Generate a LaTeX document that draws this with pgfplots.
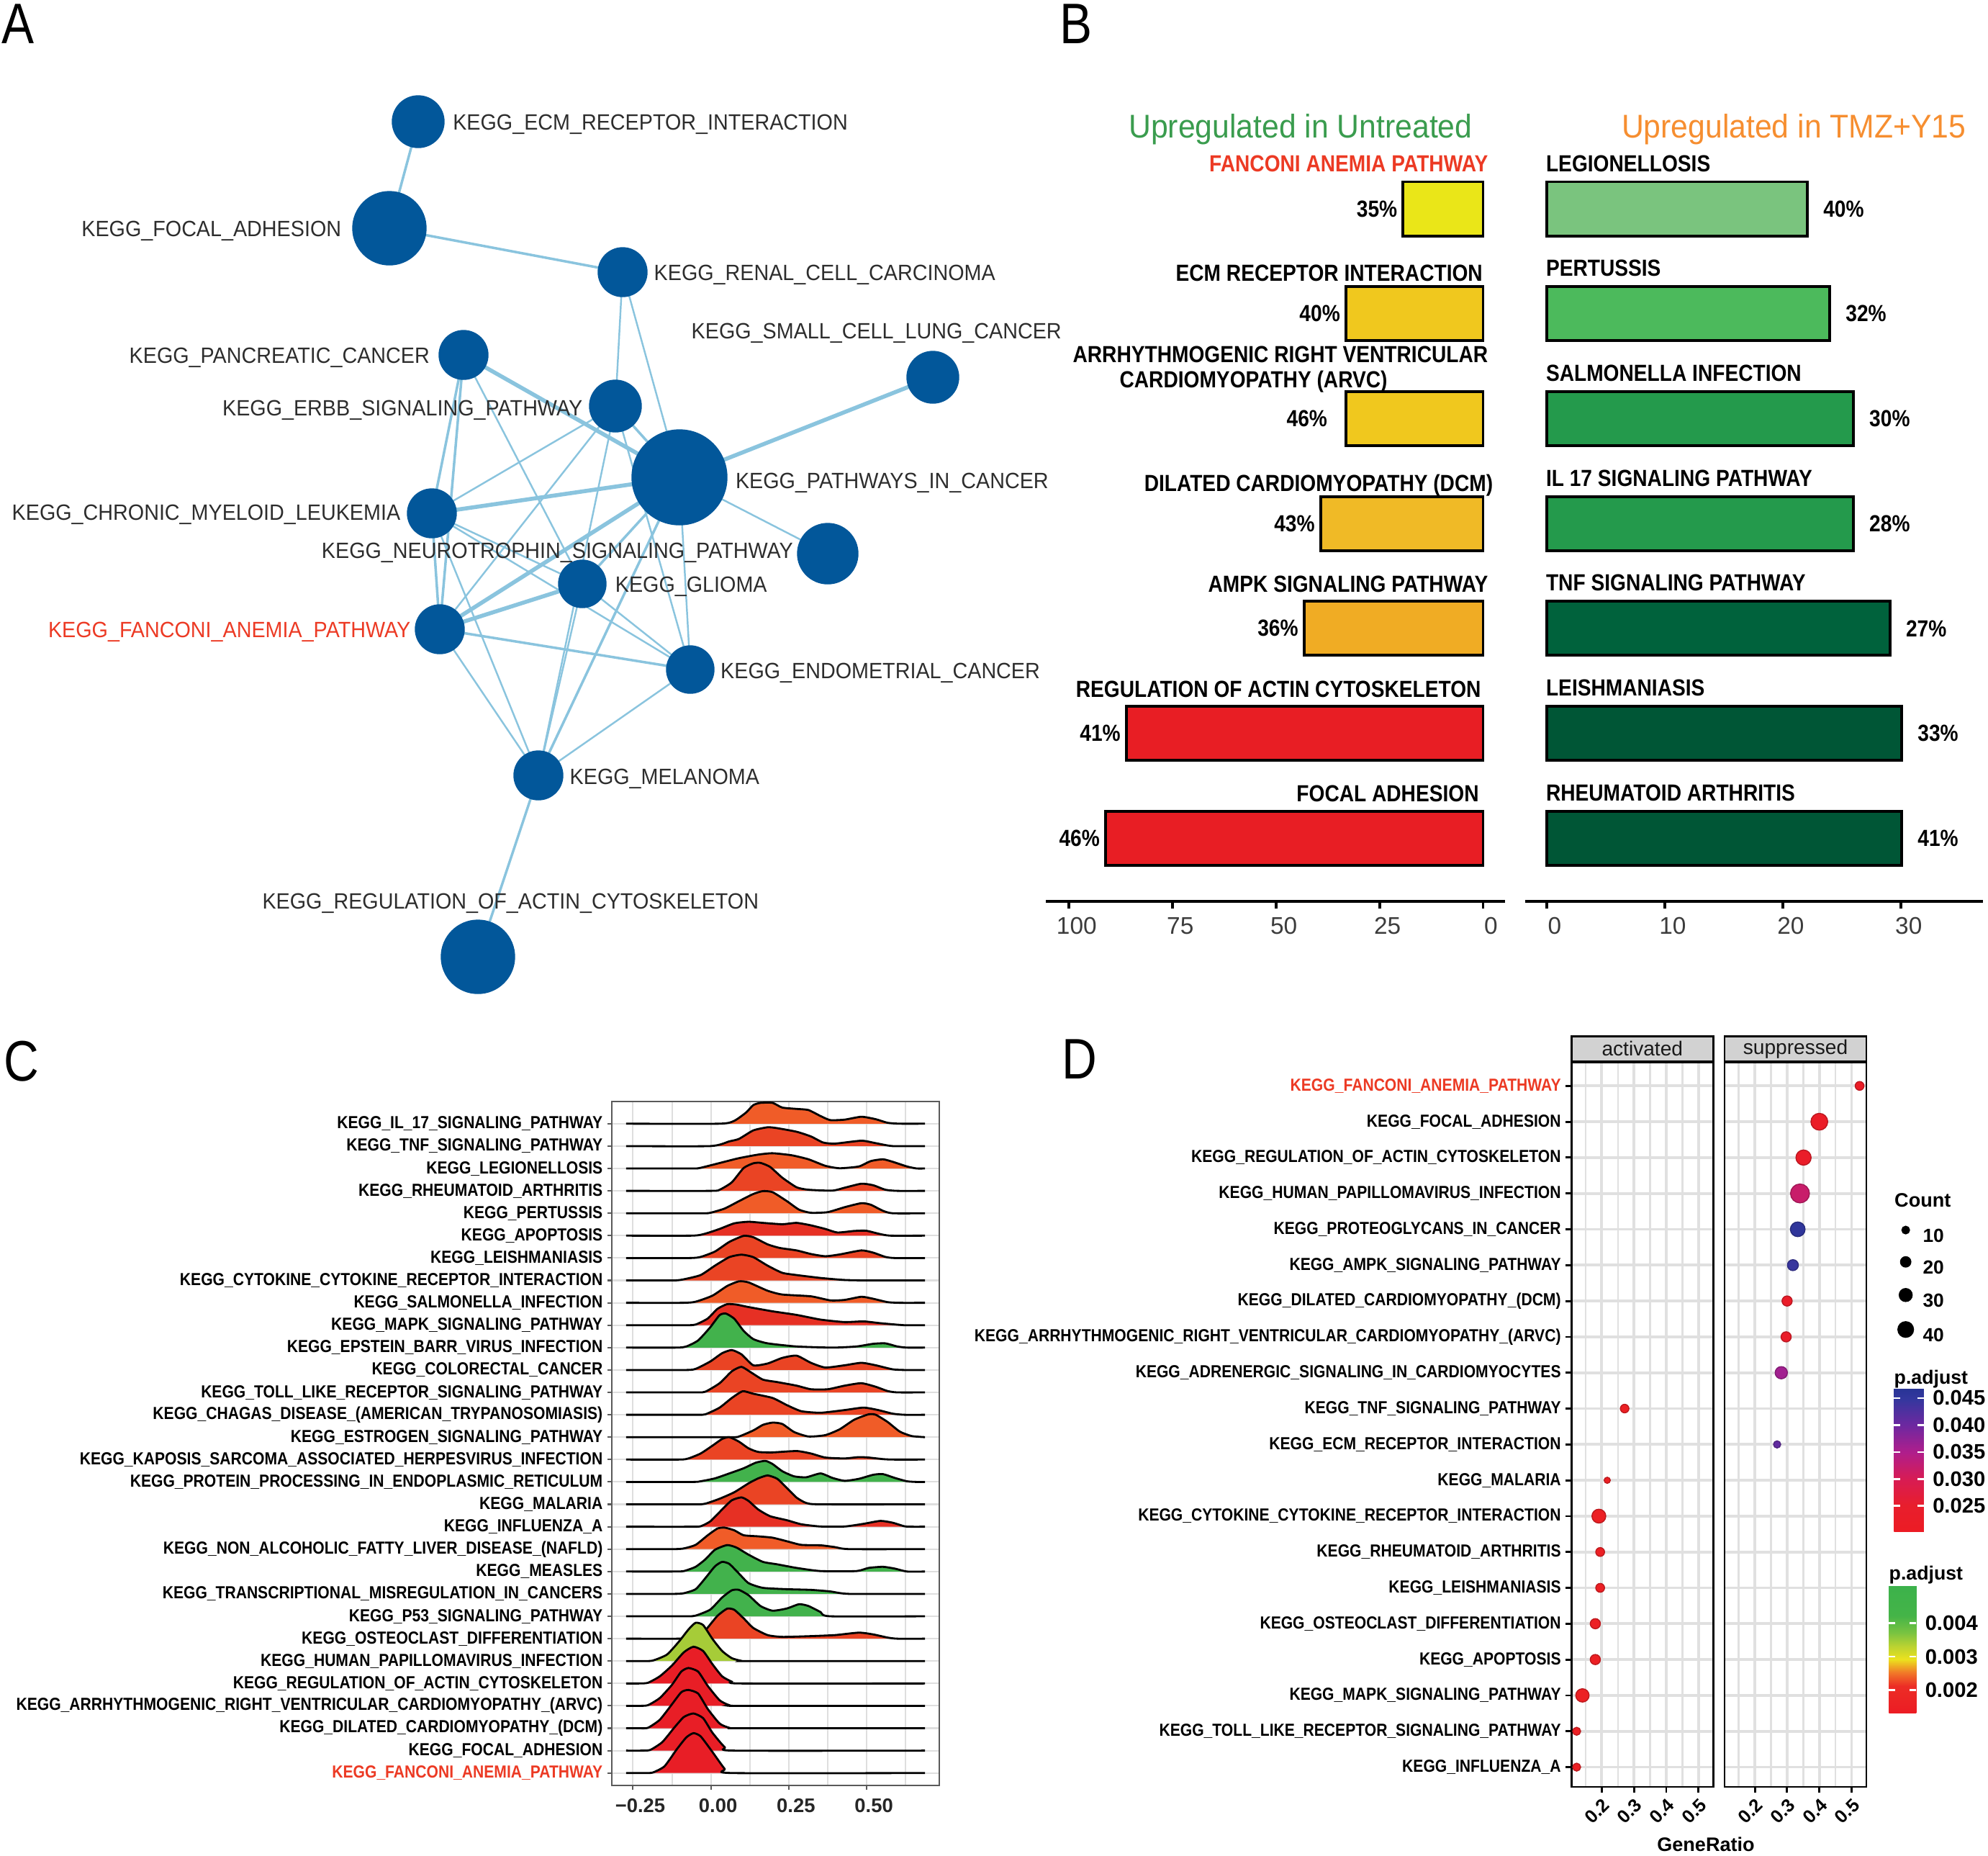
\documentclass[border=0pt]{standalone}
\usepackage{pgfplots}
\usepackage{pgfplotstable}
\pgfplotsset{compat=1.18}
\usepackage{fontspec}
\setmainfont{Liberation Sans}
\newfontfamily\fA[FakeStretch=0.935]{Liberation Sans}
\newfontfamily\fN[FakeStretch=0.87]{Liberation Sans}
\newfontfamily\fL[FakeStretch=0.85]{Liberation Sans}

\definecolor{nodeblue}{RGB}{2,87,154}
\definecolor{edgeblue}{RGB}{138,196,222}
\definecolor{txtgray}{RGB}{45,45,45}
\definecolor{kred}{RGB}{236,58,36}
\definecolor{titgreen}{RGB}{58,156,78}
\definecolor{titorange}{RGB}{246,142,48}
\definecolor{tickgray}{RGB}{60,60,60}
\definecolor{bA}{RGB}{234,230,24}
\definecolor{bB}{RGB}{240,200,30}
\definecolor{bC}{RGB}{240,186,38}
\definecolor{bD}{RGB}{240,172,36}
\definecolor{bE}{RGB}{232,30,36}
\definecolor{gA}{RGB}{122,196,126}
\definecolor{gB}{RGB}{76,186,92}
\definecolor{gC}{RGB}{36,154,76}
\definecolor{gD}{RGB}{0,98,60}
\definecolor{gE}{RGB}{0,86,54}
\definecolor{or1}{RGB}{240,92,40}
\definecolor{or2}{RGB}{234,68,36}
\definecolor{rd1}{RGB}{230,48,36}
\definecolor{rd2}{RGB}{232,30,38}
\definecolor{gn}{RGB}{66,178,76}
\definecolor{yg}{RGB}{166,204,56}
\definecolor{cgray}{RGB}{90,90,90}
\definecolor{gridC}{RGB}{222,222,222}
\definecolor{gridD}{RGB}{224,224,224}
\definecolor{stripgray}{RGB}{210,210,210}

\newcommand\fa{\fA\fontsize{8.74}{10}\selectfont}
\newcommand\fb{\fN\bfseries\fontsize{9.2}{11}\selectfont}
\newcommand\fk{\fN\bfseries\fontsize{6.9}{8}\selectfont}

\pgfplotsset{
  e1/.style={no markers, edgeblue, line width=0.7pt},
  e2/.style={no markers, edgeblue, line width=1.0pt},
  e3/.style={no markers, edgeblue, line width=1.6pt},
  colormap={padjA}{rgb255(0cm)=(236,28,36); rgb255(5cm)=(232,30,45); rgb255(10cm)=(215,28,85); rgb255(15cm)=(175,30,140); rgb255(20cm)=(110,40,160); rgb255(25cm)=(52,55,158); rgb255(27cm)=(40,52,150)},
  colormap={padjB}{rgb255(0cm)=(236,28,36); rgb255(8cm)=(236,45,38); rgb255(12cm)=(241,120,40); rgb255(16cm)=(236,226,30); rgb255(20cm)=(185,210,50); rgb255(24cm)=(120,195,65); rgb255(29cm)=(68,180,72); rgb255(38cm)=(60,178,75)},
  dpanel/.style={anchor=north west, width=1.97cm, height=10.066cm, scale only axis,
    xmin=0.106, xmax=0.546, ymin=-0.552, ymax=19.66,
    axis line style={line width=0.8pt},
    xtick={0.2,0.3,0.4,0.5}, minor xtick={0.15,0.25,0.35,0.45}, ytick={0,...,19},
    xmajorgrids, xminorgrids, ymajorgrids,
    major grid style={gridD, line width=1.1pt}, minor grid style={gridD, line width=0.7pt},
    tick pos=left, tick align=outside, major tick length=0.8mm, minor tick length=0pt,
    tick style={black, line width=0.8pt},
    xticklabel style={rotate=45, anchor=north east, inner sep=0.4mm, font=\bfseries\fontsize{7.3}{8}\selectfont, /pgf/number format/assume math mode=true},
    clip=false},
  bpanel/.style={anchor=north west, height=10.348cm, scale only axis, xbar, bar width=0.515, bar shift=0pt,
    ymin=-0.602, ymax=6.5, axis x line*=bottom, axis y line=none,
    axis line style={-, line width=1.2pt}, tick align=outside, major tick length=1mm,
    xtick style={line width=1.1pt, black},
    xticklabel style={font=\fontsize{9.5}{10}\selectfont, text=tickgray, xshift=1.1mm, /pgf/number format/assume math mode=true},
    clip=false},
  cbar/.style={axis line style={draw=none}, tick align=inside, major tick length=0.9mm,
    ytick pos=both, yticklabel pos=right, scaled y ticks=false,
    ytick style={white, line width=0.8pt}, scale only axis, anchor=north west,
    yticklabel style={font=\bfseries\fontsize{8.3}{9}\selectfont,
      /pgf/number format/fixed, /pgf/number format/precision=3,
      /pgf/number format/fixed zerofill, /pgf/number format/assume math mode=true}}
}

\newcommand\ridge[3]{%
  \addplot[draw=none, fill=#3, smooth, tension=0.35] table[x=x, y expr=\thisrow{h}+#2] {#1} -- cycle;
  \addplot[black, line width=0.8pt, smooth, tension=0.35] table[x=x, y expr=\thisrow{h}+#2] {#1};
}

% ridge densities (x = enrichment score, h = height in row units)
\pgfplotstableread{
x h
-0.272 0
0.028 0
0.075 0.13
0.113 0.50
0.136 0.83
0.159 0.93
0.198 0.93
0.229 0.72
0.275 0.66
0.313 0.61
0.352 0.34
0.383 0.16
0.429 0.18
0.483 0.31
0.529 0.20
0.567 0.04
0.606 0
0.687 0
}\rIL
\pgfplotstableread{
x h
-0.272 0
-0.002 0
0.059 0.21
0.090 0.32
0.136 0.70
0.182 0.84
0.213 0.80
0.275 0.64
0.321 0.43
0.360 0.16
0.398 0.11
0.483 0.24
0.529 0.13
0.583 0
0.687 0
}\rTNF
\pgfplotstableread{
x h
-0.272 0
-0.060 0
-0.033 0.03
0.044 0.30
0.090 0.46
0.152 0.62
0.198 0.68
0.259 0.59
0.313 0.41
0.367 0.12
0.413 0.01
0.475 0.09
0.513 0.33
0.552 0.41
0.583 0.30
0.629 0.09
0.660 0
0.687 0
}\rLEG
\pgfplotstableread{
x h
-0.272 0
0.000 0
0.028 0.05
0.067 0.38
0.105 1.02
0.136 1.23
0.159 1.25
0.190 1.07
0.229 0.59
0.275 0.16
0.313 0.05
0.390 0.01
0.429 0.14
0.483 0.32
0.521 0.25
0.560 0.05
0.598 0
0.687 0
}\rRA
\pgfplotstableread{
x h
-0.272 0
-0.030 0
-0.002 0.02
0.044 0.21
0.090 0.54
0.136 0.86
0.167 0.99
0.198 0.94
0.244 0.54
0.283 0.16
0.321 0.02
0.375 0.05
0.429 0.27
0.483 0.45
0.513 0.38
0.552 0.11
0.583 0
0.687 0
}\rPER
\pgfplotstableread{
x h
-0.272 0
-0.060 0
-0.018 0.09
0.028 0.30
0.075 0.55
0.121 0.62
0.167 0.57
0.229 0.51
0.275 0.57
0.321 0.46
0.367 0.30
0.406 0.14
0.460 0.21
0.498 0.22
0.537 0.09
0.575 0
0.687 0
}\rAPO
\pgfplotstableread{
x h
-0.272 0
-0.070 0
-0.033 0.05
0.013 0.29
0.059 0.72
0.105 0.99
0.136 0.93
0.182 0.61
0.221 0.45
0.275 0.34
0.321 0.18
0.367 0.08
0.413 0.16
0.483 0.34
0.521 0.24
0.560 0.05
0.590 0
0.687 0
}\rLEI
\pgfplotstableread{
x h
-0.272 0
-0.120 0
-0.087 0.05
-0.033 0.24
0.013 0.66
0.059 1.04
0.098 1.15
0.136 1.04
0.182 0.66
0.229 0.34
0.275 0.24
0.352 0.11
0.429 0.02
0.506 0
0.687 0
}\rCYT
\pgfplotstableread{
x h
-0.272 0
-0.090 0
-0.049 0.05
0.005 0.32
0.052 0.75
0.090 0.96
0.121 0.91
0.182 0.54
0.229 0.37
0.321 0.29
0.383 0.11
0.429 0.13
0.483 0.27
0.521 0.18
0.567 0.03
0.606 0
0.687 0
}\rSAL
\pgfplotstableread{
x h
-0.272 0
-0.080 0
-0.049 0.03
-0.010 0.30
0.021 0.73
0.052 0.94
0.082 0.92
0.121 0.81
0.198 0.62
0.275 0.46
0.352 0.25
0.429 0.14
0.490 0.17
0.544 0.09
0.621 0
0.687 0
}\rMAPK
\pgfplotstableread{
x h
-0.272 0
-0.110 0
-0.079 0.05
-0.041 0.32
-0.002 0.91
0.028 1.45
0.048 1.52
0.075 1.29
0.105 0.75
0.136 0.38
0.182 0.19
0.275 0.05
0.390 0
0.467 0.05
0.521 0.17
0.560 0.19
0.598 0.05
0.629 0
0.687 0
}\rEBV
\pgfplotstableread{
x h
-0.272 0
-0.080 0
-0.049 0.05
-0.002 0.38
0.036 0.75
0.067 0.89
0.098 0.70
0.136 0.21
0.182 0.29
0.229 0.54
0.275 0.64
0.321 0.32
0.367 0.11
0.429 0.21
0.483 0.32
0.529 0.21
0.583 0.03
0.621 0
0.687 0
}\rCRC
\pgfplotstableread{
x h
-0.272 0
-0.050 0
-0.018 0.03
0.028 0.41
0.067 0.94
0.098 1.14
0.129 0.89
0.167 0.57
0.213 0.46
0.275 0.30
0.321 0.14
0.375 0.14
0.429 0.30
0.483 0.41
0.529 0.25
0.567 0.06
0.598 0
0.687 0
}\rTLR
\pgfplotstableread{
x h
-0.272 0
-0.050 0
-0.018 0.02
0.028 0.32
0.067 0.75
0.102 1.05
0.136 0.94
0.198 0.75
0.244 0.43
0.290 0.16
0.352 0.09
0.429 0.21
0.490 0.32
0.537 0.21
0.583 0.05
0.621 0
0.687 0
}\rCHA
\pgfplotstableread{
x h
-0.272 0
0.060 0
0.090 0.03
0.136 0.30
0.167 0.55
0.198 0.65
0.229 0.59
0.267 0.23
0.313 0.03
0.367 0.09
0.413 0.35
0.460 0.78
0.506 1.02
0.529 1.00
0.567 0.68
0.606 0.25
0.644 0.05
0.687 0
}\rEST
\pgfplotstableread{
x h
-0.272 0
-0.100 0
-0.072 0.05
-0.033 0.27
0.005 0.62
0.036 0.92
0.059 1.00
0.090 0.80
0.121 0.50
0.152 0.34
0.198 0.32
0.275 0.38
0.321 0.27
0.367 0.09
0.429 0.05
0.475 0.11
0.506 0.09
0.552 0.02
0.583 0
0.687 0
}\rKAP
\pgfplotstableread{
x h
-0.272 0
-0.060 0
-0.033 0.03
0.013 0.16
0.059 0.38
0.105 0.61
0.144 0.86
0.175 0.94
0.198 0.80
0.229 0.48
0.267 0.25
0.306 0.21
0.352 0.38
0.390 0.18
0.429 0.05
0.475 0.14
0.521 0.32
0.552 0.35
0.590 0.18
0.629 0.03
0.660 0
0.687 0
}\rPPE
\pgfplotstableread{
x h
-0.272 0
-0.050 0
-0.018 0.03
0.028 0.25
0.075 0.54
0.121 0.94
0.152 1.16
0.182 1.29
0.213 1.14
0.244 0.73
0.275 0.30
0.306 0.06
0.352 0
0.687 0
}\rMAL
\pgfplotstableread{
x h
-0.272 0
-0.060 0
-0.033 0.02
-0.002 0.24
0.036 0.77
0.067 1.18
0.098 1.31
0.121 1.15
0.152 0.77
0.190 0.47
0.244 0.29
0.290 0.11
0.352 0.01
0.429 0.01
0.490 0.13
0.544 0.26
0.583 0.18
0.621 0.02
0.644 0
0.687 0
}\rINF
\pgfplotstableread{
x h
-0.272 0
-0.120 0
-0.087 0.03
-0.049 0.19
-0.010 0.62
0.021 0.92
0.044 0.96
0.075 0.84
0.105 0.62
0.152 0.57
0.198 0.51
0.244 0.35
0.290 0.19
0.352 0.17
0.398 0.09
0.444 0
0.687 0
}\rNAF
\pgfplotstableread{
x h
-0.272 0
-0.120 0
-0.087 0.02
-0.049 0.21
-0.018 0.54
0.013 0.97
0.052 1.18
0.082 1.07
0.121 0.75
0.167 0.43
0.213 0.32
0.275 0.16
0.352 0.02
0.467 0.02
0.506 0.16
0.552 0.21
0.590 0.13
0.629 0
0.687 0
}\rMEA
\pgfplotstableread{
x h
-0.272 0
-0.120 0
-0.087 0.03
-0.049 0.21
-0.018 0.70
0.013 1.23
0.036 1.43
0.059 1.34
0.090 0.91
0.121 0.48
0.167 0.27
0.244 0.21
0.321 0.18
0.383 0.11
0.444 0
0.687 0
}\rTMC
\pgfplotstableread{
x h
-0.272 0
-0.080 0
-0.049 0.03
-0.002 0.30
0.036 0.84
0.067 1.16
0.090 1.18
0.121 0.94
0.159 0.46
0.198 0.25
0.244 0.35
0.283 0.54
0.313 0.46
0.352 0.19
0.383 0
0.687 0
}\rPFT
\pgfplotstableread{
x h
-0.272 0
-0.100 0
-0.072 0.02
-0.033 0.15
-0.010 0.50
0.021 1.02
0.052 1.34
0.075 1.29
0.105 0.91
0.136 0.48
0.182 0.16
0.229 0.08
0.313 0.11
0.398 0.16
0.475 0.27
0.521 0.19
0.567 0.05
0.598 0
0.687 0
}\rOST
\pgfplotstableread{
x h
-0.272 0
-0.220 0
-0.187 0.02
-0.141 0.29
-0.102 0.88
-0.072 1.41
-0.049 1.71
-0.025 1.61
0.005 0.99
0.036 0.45
0.067 0.13
0.098 0.01
0.121 0
0.687 0
}\rHPV
\pgfplotstableread{
x h
-0.272 0
-0.230 0
-0.202 0.03
-0.164 0.32
-0.125 0.80
-0.087 1.39
-0.056 1.64
-0.025 1.45
0.005 0.86
0.036 0.32
0.067 0.08
0.098 0
0.687 0
}\rACT
\pgfplotstableread{
x h
-0.272 0
-0.230 0
-0.202 0.03
-0.164 0.35
-0.125 0.94
-0.095 1.53
-0.072 1.69
-0.041 1.53
-0.010 0.89
0.028 0.25
0.059 0.03
0.090 0
0.687 0
}\rARV
\pgfplotstableread{
x h
-0.272 0
-0.230 0
-0.202 0.02
-0.164 0.38
-0.125 1.07
-0.095 1.61
-0.072 1.71
-0.041 1.55
-0.010 0.86
0.028 0.21
0.059 0.02
0.090 0
0.687 0
}\rDCM
\pgfplotstableread{
x h
-0.272 0
-0.225 0
-0.195 0.03
-0.156 0.38
-0.118 1.02
-0.087 1.50
-0.056 1.66
-0.025 1.45
0.005 0.80
0.044 0.16
0.075 0
0.687 0
}\rFOC
\pgfplotstableread{
x h
-0.272 0
-0.215 0
-0.187 0.02
-0.149 0.30
-0.110 1.05
-0.079 1.59
-0.056 1.78
-0.033 1.64
0.005 0.94
0.044 0.19
0.067 0
0.687 0
}\rFAN

\begin{document}
\begin{tikzpicture}
\tikzset{alab/.style={font=\fa, text=txtgray, inner sep=0pt}}

% ---------------- A: network ----------------
\begin{axis}[at={(0cm,0cm)}, anchor=north west, width=14.4cm, height=14cm, scale only axis,
  xmin=0, xmax=1440, ymin=0, ymax=1400, y dir=reverse, hide axis, clip=false]
\addplot[e2] coordinates {(581,169) (541,317)};
\addplot[e2] coordinates {(541,317) (865,378)};
\addplot[e1] coordinates {(865,378) (855,564)};
\addplot[e1] coordinates {(865,378) (944,663)};
\addplot[e3] coordinates {(1296,524) (944,663)};
\addplot[e3] coordinates {(644,493) (944,663)};
\addplot[e2] coordinates {(644,493) (600,713)};
\addplot[e2] coordinates {(644,493) (611,874)};
\addplot[e1] coordinates {(644,493) (809,811)};
\addplot[e2] coordinates {(855,564) (944,663)};
\addplot[e1] coordinates {(855,564) (600,713)};
\addplot[e1] coordinates {(855,564) (611,874)};
\addplot[e1] coordinates {(855,564) (959,930)};
\addplot[e1] coordinates {(855,564) (748,1077)};
\addplot[e3] coordinates {(944,663) (600,713)};
\addplot[e1] coordinates {(944,663) (1150,769)};
\addplot[e3] coordinates {(944,663) (611,874)};
\addplot[e2] coordinates {(944,663) (809,811)};
\addplot[e1] coordinates {(944,663) (959,930)};
\addplot[e2] coordinates {(944,663) (748,1077)};
\addplot[e1] coordinates {(600,713) (809,811)};
\addplot[e2] coordinates {(600,713) (611,874)};
\addplot[e1] coordinates {(600,713) (959,930)};
\addplot[e1] coordinates {(600,713) (748,1077)};
\addplot[e3] coordinates {(809,811) (611,874)};
\addplot[e1] coordinates {(809,811) (959,930)};
\addplot[e1] coordinates {(809,811) (748,1077)};
\addplot[e2] coordinates {(611,874) (959,930)};
\addplot[e1] coordinates {(611,874) (748,1077)};
\addplot[e1] coordinates {(959,930) (748,1077)};
\addplot[e2] coordinates {(748,1077) (664,1329)};
\addplot[scatter, only marks, mark=*,
  scatter/use mapped color={draw=nodeblue, fill=nodeblue},
  visualization depends on={\thisrow{r}*0.2845 \as \rad},
  scatter/@pre marker code/.append style={/tikz/mark size=\rad}]
  table {
x y r
581 169 36
541 317 51
865 378 34
1296 524 36
644 493 34
855 564 36
944 663 66
600 713 34
1150 769 42
809 811 33
611 874 34
959 930 33
748 1077 34
664 1329 51
};
\node[alab, anchor=base west] at (axis cs:628.6,180) {KEGG\_ECM\_RECEPTOR\_INTERACTION};
\node[alab, anchor=base east] at (axis cs:474.8,328) {KEGG\_FOCAL\_ADHESION};
\node[alab, anchor=base west] at (axis cs:908,389) {KEGG\_RENAL\_CELL\_CARCINOMA};
\node[alab, anchor=base west] at (axis cs:960,470) {KEGG\_SMALL\_CELL\_LUNG\_CANCER};
\node[alab, anchor=base east] at (axis cs:597.5,504) {KEGG\_PANCREATIC\_CANCER};
\node[alab, anchor=base east] at (axis cs:809.9,577) {KEGG\_ERBB\_SIGNALING\_PATHWAY};
\node[alab, anchor=base west] at (axis cs:1021.3,678) {KEGG\_PATHWAYS\_IN\_CANCER};
\node[alab, anchor=base east] at (axis cs:556.9,722) {KEGG\_CHRONIC\_MYELOID\_LEUKEMIA};
\node[alab, anchor=base east] at (axis cs:1102.5,775) {KEGG\_NEUROTROPHIN\_SIGNALING\_PATHWAY};
\node[alab, anchor=base west] at (axis cs:854.2,822) {KEGG\_GLIOMA};
\node[alab, anchor=base east, text=kred] at (axis cs:571,885) {KEGG\_FANCONI\_ANEMIA\_PATHWAY};
\node[alab, anchor=base west] at (axis cs:1000.5,942) {KEGG\_ENDOMETRIAL\_CANCER};
\node[alab, anchor=base west] at (axis cs:791,1089) {KEGG\_MELANOMA};
\node[alab, anchor=base] at (axis cs:709.3,1262.5) {KEGG\_REGULATION\_OF\_ACTIN\_CYTOSKELETON};
\end{axis}

% ---------------- B: left bars ----------------
\begin{axis}[bpanel, at={(14.526cm,-2.172cm)}, width=6.384cm,
  xmin=-5.3, xmax=105.6, x dir=reverse, xtick={0,25,50,75,100}]
\addplot[fill=bA, draw=black, line width=1.1pt] coordinates {(19.3,6)};
\addplot[fill=bB, draw=black, line width=1.1pt] coordinates {(33.1,5)};
\addplot[fill=bB, draw=black, line width=1.1pt] coordinates {(33.1,4)};
\addplot[fill=bC, draw=black, line width=1.1pt] coordinates {(39.2,3)};
\addplot[fill=bD, draw=black, line width=1.1pt] coordinates {(43.2,2)};
\addplot[fill=bE, draw=black, line width=1.1pt] coordinates {(86.1,1)};
\addplot[fill=bE, draw=black, line width=1.1pt] coordinates {(91.1,0)};
\node[font=\fb, anchor=east, inner sep=0pt] at (axis cs:20.6,6) {35\%};
\node[font=\fb, anchor=east, inner sep=0pt] at (axis cs:34.4,5) {40\%};
\node[font=\fb, anchor=east, inner sep=0pt] at (axis cs:37.5,4) {46\%};
\node[font=\fb, anchor=east, inner sep=0pt] at (axis cs:40.5,3) {43\%};
\node[font=\fb, anchor=east, inner sep=0pt] at (axis cs:44.5,2) {36\%};
\node[font=\fb, anchor=east, inner sep=0pt] at (axis cs:87.4,1) {41\%};
\node[font=\fb, anchor=east, inner sep=0pt] at (axis cs:92.4,0) {46\%};
\node[font=\fb, anchor=base east, inner sep=0pt, text=kred] at (axis cs:-1.3,6.353) {FANCONI ANEMIA PATHWAY};
\node[font=\fb, anchor=base east, inner sep=0pt] at (axis cs:0,5.314) {ECM RECEPTOR INTERACTION};
\node[font=\fb, anchor=base east, inner sep=0pt] at (axis cs:-1.3,4.532) {ARRHYTHMOGENIC RIGHT VENTRICULAR};
\node[font=\fb, anchor=base, inner sep=0pt] at (axis cs:55.4,4.292) {CARDIOMYOPATHY (ARVC)};
\node[font=\fb, anchor=base east, inner sep=0pt] at (axis cs:-2.5,3.306) {DILATED CARDIOMYOPATHY (DCM)};
\node[font=\fb, anchor=base east, inner sep=0pt] at (axis cs:-1.3,2.349) {AMPK SIGNALING PATHWAY};
\node[font=\fb, anchor=base east, inner sep=0pt] at (axis cs:0.4,1.347) {REGULATION OF ACTIN CYTOSKELETON};
\node[font=\fb, anchor=base east, inner sep=0pt] at (axis cs:0.9,0.346) {FOCAL ADHESION};
\node[font=\fA\fontsize{13}{14}\selectfont, text=titgreen, anchor=base, inner sep=0pt] at (axis cs:44.06,6.675) {Upregulated in Untreated};
\end{axis}

% ---------------- B: right bars ----------------
\begin{axis}[bpanel, at={(21.188cm,-2.172cm)}, width=6.362cm,
  xmin=-1.84, xmax=36.97, xtick={0,10,20,30}]
\addplot[fill=gA, draw=black, line width=1.1pt] coordinates {(22.1,6)};
\addplot[fill=gB, draw=black, line width=1.1pt] coordinates {(24.0,5)};
\addplot[fill=gC, draw=black, line width=1.1pt] coordinates {(26.0,4)};
\addplot[fill=gC, draw=black, line width=1.1pt] coordinates {(26.0,3)};
\addplot[fill=gD, draw=black, line width=1.1pt] coordinates {(29.1,2)};
\addplot[fill=gE, draw=black, line width=1.1pt] coordinates {(30.1,1)};
\addplot[fill=gE, draw=black, line width=1.1pt] coordinates {(30.1,0)};
\node[font=\fb, anchor=west, inner sep=0pt] at (axis cs:23.4,6) {40\%};
\node[font=\fb, anchor=west, inner sep=0pt] at (axis cs:25.3,5) {32\%};
\node[font=\fb, anchor=west, inner sep=0pt] at (axis cs:27.3,4) {30\%};
\node[font=\fb, anchor=west, inner sep=0pt] at (axis cs:27.3,3) {28\%};
\node[font=\fb, anchor=west, inner sep=0pt] at (axis cs:30.4,2) {27\%};
\node[font=\fb, anchor=west, inner sep=0pt] at (axis cs:31.4,1) {33\%};
\node[font=\fb, anchor=west, inner sep=0pt] at (axis cs:31.4,0) {41\%};
\node[font=\fb, anchor=base west, inner sep=0pt] at (axis cs:-0.1,6.353) {LEGIONELLOSIS};
\node[font=\fb, anchor=base west, inner sep=0pt] at (axis cs:-0.1,5.357) {PERTUSSIS};
\node[font=\fb, anchor=base west, inner sep=0pt] at (axis cs:-0.1,4.357) {SALMONELLA INFECTION};
\node[font=\fb, anchor=base west, inner sep=0pt] at (axis cs:-0.1,3.357) {IL 17 SIGNALING PATHWAY};
\node[font=\fb, anchor=base west, inner sep=0pt] at (axis cs:-0.1,2.357) {TNF SIGNALING PATHWAY};
\node[font=\fb, anchor=base west, inner sep=0pt] at (axis cs:-0.1,1.357) {LEISHMANIASIS};
\node[font=\fb, anchor=base west, inner sep=0pt] at (axis cs:-0.1,0.357) {RHEUMATOID ARTHRITIS};
\node[font=\fA\fontsize{13}{14}\selectfont, text=titorange, anchor=base, inner sep=0pt] at (axis cs:20.94,6.675) {Upregulated in TMZ+Y15};
\end{axis}

% ---------------- C: ridgeline ----------------
\begin{axis}[at={(8.50cm,-15.30cm)}, anchor=north west, width=4.55cm, height=9.50cm, scale only axis,
  xmin=-0.318, xmax=0.733, ymin=-0.556, ymax=29.99,
  axis line style={cgray, line width=0.75pt},
  xtick={-0.25,0,0.25,0.5}, xticklabels={−0.25,0.00,0.25,0.50},
  minor xtick={-0.125,0.125,0.375,0.625},
  ytick={0,...,29},
  yticklabels={{\textcolor{kred}{KEGG\_FANCONI\_ANEMIA\_PATHWAY}},
    KEGG\_FOCAL\_ADHESION,
    KEGG\_DILATED\_CARDIOMYOPATHY\_(DCM),
    KEGG\_ARRHYTHMOGENIC\_RIGHT\_VENTRICULAR\_CARDIOMYOPATHY\_(ARVC),
    KEGG\_REGULATION\_OF\_ACTIN\_CYTOSKELETON,
    KEGG\_HUMAN\_PAPILLOMAVIRUS\_INFECTION,
    KEGG\_OSTEOCLAST\_DIFFERENTIATION,
    KEGG\_P53\_SIGNALING\_PATHWAY,
    KEGG\_TRANSCRIPTIONAL\_MISREGULATION\_IN\_CANCERS,
    KEGG\_MEASLES,
    KEGG\_NON\_ALCOHOLIC\_FATTY\_LIVER\_DISEASE\_(NAFLD),
    KEGG\_INFLUENZA\_A,
    KEGG\_MALARIA,
    KEGG\_PROTEIN\_PROCESSING\_IN\_ENDOPLASMIC\_RETICULUM,
    KEGG\_KAPOSIS\_SARCOMA\_ASSOCIATED\_HERPESVIRUS\_INFECTION,
    KEGG\_ESTROGEN\_SIGNALING\_PATHWAY,
    KEGG\_CHAGAS\_DISEASE\_(AMERICAN\_TRYPANOSOMIASIS),
    KEGG\_TOLL\_LIKE\_RECEPTOR\_SIGNALING\_PATHWAY,
    KEGG\_COLORECTAL\_CANCER,
    KEGG\_EPSTEIN\_BARR\_VIRUS\_INFECTION,
    KEGG\_MAPK\_SIGNALING\_PATHWAY,
    KEGG\_SALMONELLA\_INFECTION,
    KEGG\_CYTOKINE\_CYTOKINE\_RECEPTOR\_INTERACTION,
    KEGG\_LEISHMANIASIS,
    KEGG\_APOPTOSIS,
    KEGG\_PERTUSSIS,
    KEGG\_RHEUMATOID\_ARTHRITIS,
    KEGG\_LEGIONELLOSIS,
    KEGG\_TNF\_SIGNALING\_PATHWAY,
    KEGG\_IL\_17\_SIGNALING\_PATHWAY},
  xmajorgrids, xminorgrids, ymajorgrids,
  major grid style={gridC, line width=0.6pt}, minor grid style={gridC, line width=0.6pt},
  tick pos=left, tick align=outside, major tick length=0.6mm, minor tick length=0pt,
  tick style={cgray, line width=0.6pt},
  yticklabel style={font=\fk, inner sep=0.6mm},
  xticklabel style={font=\bfseries\fontsize{7.8}{9}\selectfont, text=black!85, xshift=1mm}]
\ridge{\rIL}{29}{or1}
\ridge{\rTNF}{28}{or2}
\ridge{\rLEG}{27}{or1}
\ridge{\rRA}{26}{or2}
\ridge{\rPER}{25}{or1}
\ridge{\rAPO}{24}{rd1}
\ridge{\rLEI}{23}{or2}
\ridge{\rCYT}{22}{or2}
\ridge{\rSAL}{21}{or1}
\ridge{\rMAPK}{20}{rd1}
\ridge{\rEBV}{19}{gn}
\ridge{\rCRC}{18}{or2}
\ridge{\rTLR}{17}{or2}
\ridge{\rCHA}{16}{or2}
\ridge{\rEST}{15}{or1}
\ridge{\rKAP}{14}{or2}
\ridge{\rPPE}{13}{gn}
\ridge{\rMAL}{12}{or2}
\ridge{\rINF}{11}{rd1}
\ridge{\rNAF}{10}{or1}
\ridge{\rMEA}{9}{gn}
\ridge{\rTMC}{8}{gn}
\ridge{\rPFT}{7}{gn}
\ridge{\rOST}{6}{or2}
\ridge{\rHPV}{5}{yg}
\ridge{\rACT}{4}{rd2}
\ridge{\rARV}{3}{rd2}
\ridge{\rDCM}{2}{rd2}
\ridge{\rFOC}{1}{rd2}
\ridge{\rFAN}{0}{rd2}
\end{axis}

% ---------------- D: dot plot, activated ----------------
\begin{axis}[dpanel, at={(21.833cm,-14.754cm)},
  yticklabels={KEGG\_INFLUENZA\_A, KEGG\_TOLL\_LIKE\_RECEPTOR\_SIGNALING\_PATHWAY,
    KEGG\_MAPK\_SIGNALING\_PATHWAY, KEGG\_APOPTOSIS, KEGG\_OSTEOCLAST\_DIFFERENTIATION,
    KEGG\_LEISHMANIASIS, KEGG\_RHEUMATOID\_ARTHRITIS,
    KEGG\_CYTOKINE\_CYTOKINE\_RECEPTOR\_INTERACTION, KEGG\_MALARIA,
    KEGG\_ECM\_RECEPTOR\_INTERACTION, KEGG\_TNF\_SIGNALING\_PATHWAY,
    KEGG\_ADRENERGIC\_SIGNALING\_IN\_CARDIOMYOCYTES,
    KEGG\_ARRHYTHMOGENIC\_RIGHT\_VENTRICULAR\_CARDIOMYOPATHY\_(ARVC),
    KEGG\_DILATED\_CARDIOMYOPATHY\_(DCM), KEGG\_AMPK\_SIGNALING\_PATHWAY,
    KEGG\_PROTEOGLYCANS\_IN\_CANCER, KEGG\_HUMAN\_PAPILLOMAVIRUS\_INFECTION,
    KEGG\_REGULATION\_OF\_ACTIN\_CYTOSKELETON, KEGG\_FOCAL\_ADHESION,
    {\textcolor{kred}{KEGG\_FANCONI\_ANEMIA\_PATHWAY}}},
  yticklabel style={font=\fk, inner sep=0.6mm},
  colormap name=padjB, point meta min=0.00132, point meta max=0.00512,
  colorbar,
  colorbar shift/.style={xshift=24.4mm, yshift=-72.69mm},
  colorbar style={cbar, at={(parent axis.north east)},
    width=3.8mm, height=17.69mm, ytick={0.002,0.003,0.004}}]
\addplot[scatter, only marks, mark=*, scatter src=explicit, forget plot,
  visualization depends on={(7+0.37*\thisrow{count})*0.1423 \as \msz},
  scatter/@pre marker code/.append style={/tikz/mark size=\msz}]
  table[x=ratio, y=row, meta=padj] {
ratio row count padj
0.271 10 13 0.0015
0.217 8 4 0.0015
0.191 7 33 0.0015
0.195 6 14 0.0015
0.195 5 14 0.0015
0.180 4 19 0.0015
0.180 3 19 0.0015
0.140 2 31 0.0015
0.122 1 11 0.0015
0.122 0 11 0.0015
};
\node[draw=black, line width=0.8pt, fill=stripgray, minimum width=19.7mm, minimum height=3.44mm,
  inner sep=0pt, anchor=south, font=\fontsize{8}{9}\selectfont, text=black!90] at (rel axis cs:0.5,1) {activated};
\end{axis}

% ---------------- D: dot plot, suppressed ----------------
\begin{axis}[dpanel, at={(23.96cm,-14.754cm)},
  yticklabels={}, ytick style={draw=none},
  colormap name=padjA, point meta min=0.0203, point meta max=0.0468,
  colorbar,
  colorbar shift/.style={xshift=3.84mm, yshift=-45.3mm},
  colorbar style={cbar, at={(parent axis.north east)},
    width=4.14mm, height=19.87mm, ytick={0.025,0.03,0.035,0.04,0.045}},
  legend style={at={(axis description cs:1.222,0.7737)}, anchor=north west, draw=none, fill=none,
    inner sep=0pt, outer sep=0pt, row sep=1.65mm, column sep=1.3mm,
    nodes={inner sep=0pt, text height=1.8mm, text depth=0.4mm, font=\bfseries\fontsize{7.5}{8}\selectfont}},
  legend cell align=left,
  legend image code/.code={\draw[#1] plot coordinates {(0cm,0.95mm)};}]
\addplot[scatter, only marks, mark=*, scatter src=explicit, forget plot,
  visualization depends on={(7+0.37*\thisrow{count})*0.1423 \as \msz},
  scatter/@pre marker code/.append style={/tikz/mark size=\msz}]
  table[x=ratio, y=row, meta=padj] {
ratio row count padj
0.525 19 14 0.0215
0.400 18 44 0.022
0.351 17 38 0.023
0.340 16 52 0.032
0.333 15 36 0.0455
0.318 14 22 0.0445
0.300 13 19 0.023
0.297 12 19 0.023
0.282 11 27 0.036
0.269 9 8 0.041
};
\addlegendimage{only marks, mark=*, black, mark size=1.52pt}
\addlegendentry{10}
\addlegendimage{only marks, mark=*, black, mark size=2.05pt}
\addlegendentry{20}
\addlegendimage{only marks, mark=*, black, mark size=2.57pt}
\addlegendentry{30}
\addlegendimage{only marks, mark=*, black, mark size=3.10pt}
\addlegendentry{40}
\node[draw=black, line width=0.8pt, fill=stripgray, minimum width=19.7mm, minimum height=3.44mm,
  inner sep=0pt, anchor=south, font=\fontsize{8}{9}\selectfont, text=black!90] at (rel axis cs:0.5,1) {suppressed};
\end{axis}

% titles and panel letters
\node[anchor=base west, inner sep=0pt, font=\bfseries\fontsize{7.7}{8}\selectfont] at (26.315,-16.763) {Count};
\node[anchor=base west, inner sep=0pt, font=\bfseries\fontsize{7.6}{8}\selectfont] at (26.31,-19.22) {p.adjust};
\node[anchor=base west, inner sep=0pt, font=\bfseries\fontsize{7.6}{8}\selectfont] at (26.24,-21.94) {p.adjust};
\node[anchor=center, inner sep=0pt, font=\bfseries\fontsize{7.7}{8}\selectfont] at (23.70,-25.62) {GeneRatio};
\node[anchor=base west, inner sep=0pt, font=\fL\fontsize{22.6}{24}\selectfont] at (0.02,-0.60) {A};
\node[anchor=base west, inner sep=0pt, font=\fL\fontsize{22.6}{24}\selectfont] at (14.72,-0.60) {B};
\node[anchor=base west, inner sep=0pt, font=\fL\fontsize{22.6}{24}\selectfont] at (0.05,-15.01) {C};
\node[anchor=base west, inner sep=0pt, font=\fL\fontsize{22.6}{24}\selectfont] at (14.75,-14.98) {D};

\pgfresetboundingbox
\path (0,0) rectangle (27.62,-25.77);
\end{tikzpicture}
\end{document}
